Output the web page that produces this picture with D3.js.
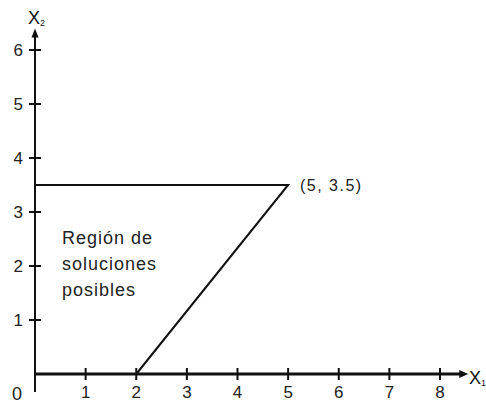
<!DOCTYPE html>
<html>
<head>
<meta charset="utf-8">
<script src="https://cdn.jsdelivr.net/npm/d3@7"></script>
<style>
  html, body { margin: 0; padding: 0; background: #fff; }
  svg { display: block; font-family: "Liberation Sans", Arial, sans-serif; }
</style>
</head>
<body>
<svg id="chart" width="486" height="407"></svg>
<script>
// Feasible region boundary: (0, 3.5) -> (5, 3.5) -> (2, 0)
const boundaryX = [0, 5, 2];
const boundaryY = [3.5, 3.5, 0];
const xTicks = [1, 2, 3, 4, 5, 6, 7, 8];
const yTicks = [1, 2, 3, 4, 5, 6];
const vertexLabel = "(5,  3.5)";
const regionLines = ["Región de", "soluciones", "posibles"];

const svg = d3.select("#chart");
const x = d3.scaleLinear().domain([0, 8]).range([35, 440]);
const y = d3.scaleLinear().domain([0, 6]).range([374, 50]);

const ink = "#111";

// Axes
svg.append("line")
  .attr("x1", x(0)).attr("x2", x(8.4))
  .attr("y1", y(0)).attr("y2", y(0))
  .attr("stroke", ink).attr("stroke-width", 3);
svg.append("path")
  .attr("d", `M${x(8.4) + 8},${y(0)} L${x(8.4) - 1},${y(0) - 4} L${x(8.4) - 1},${y(0) + 4} Z`)
  .attr("fill", ink);

svg.append("line")
  .attr("x1", x(0)).attr("x2", x(0))
  .attr("y1", y(0) + 18).attr("y2", y(6.25))
  .attr("stroke", ink).attr("stroke-width", 2);
svg.append("path")
  .attr("d", `M${x(0)},${y(6.25) - 8} L${x(0) - 3.5},${y(6.25) + 1} L${x(0) + 3.5},${y(6.25) + 1} Z`)
  .attr("fill", ink);

// Tick crosses
svg.selectAll(".xt").data(xTicks).enter().append("line")
  .attr("x1", d => x(d)).attr("x2", d => x(d))
  .attr("y1", y(0) - 6).attr("y2", y(0) + 6)
  .attr("stroke", ink).attr("stroke-width", 2);
svg.selectAll(".yt").data(yTicks).enter().append("line")
  .attr("x1", x(0) - 6).attr("x2", x(0) + 6)
  .attr("y1", d => y(d)).attr("y2", d => y(d))
  .attr("stroke", ink).attr("stroke-width", 2);

// Tick labels
svg.selectAll(".xl").data(xTicks).enter().append("text")
  .attr("x", d => x(d)).attr("y", y(0) + 24)
  .attr("text-anchor", "middle").attr("font-size", 17).attr("fill", "#222")
  .text(d => d);
svg.selectAll(".yl").data(yTicks).enter().append("text")
  .attr("x", x(0) - 12).attr("y", d => y(d) + 6)
  .attr("text-anchor", "end").attr("font-size", 17).attr("fill", "#222")
  .text(d => d);
svg.append("text")
  .attr("x", 17).attr("y", 400)
  .attr("text-anchor", "middle").attr("font-size", 18).attr("fill", "#222")
  .text("0");

// Axis titles
const xTitle = svg.append("text").attr("x", 469).attr("y", 384)
  .attr("font-size", 18).attr("fill", ink);
xTitle.append("tspan").text("X");
xTitle.append("tspan").attr("font-size", 9).attr("dy", 2).text("1");

const yTitle = svg.append("text").attr("x", 28).attr("y", 24)
  .attr("font-size", 18).attr("fill", ink);
yTitle.append("tspan").text("X");
yTitle.append("tspan").attr("font-size", 9).attr("dy", 2).text("2");

// Boundary lines
const pts = boundaryX.map((d, i) => [x(d), y(boundaryY[i])]);
svg.append("path")
  .attr("d", d3.line()(pts))
  .attr("fill", "none").attr("stroke", ink).attr("stroke-width", 2);

// Vertex label
svg.append("text")
  .attr("x", 300).attr("y", y(3.5) + 6)
  .attr("font-size", 16).attr("letter-spacing", 1.5).attr("fill", "#222")
  .text(vertexLabel);

// Region label
svg.selectAll(".rl").data(regionLines).enter().append("text")
  .attr("x", 62).attr("y", (d, i) => 244 + i * 26)
  .attr("font-size", 18).attr("letter-spacing", 1).attr("fill", "#222")
  .text(d => d);
</script>
</body>
</html>
